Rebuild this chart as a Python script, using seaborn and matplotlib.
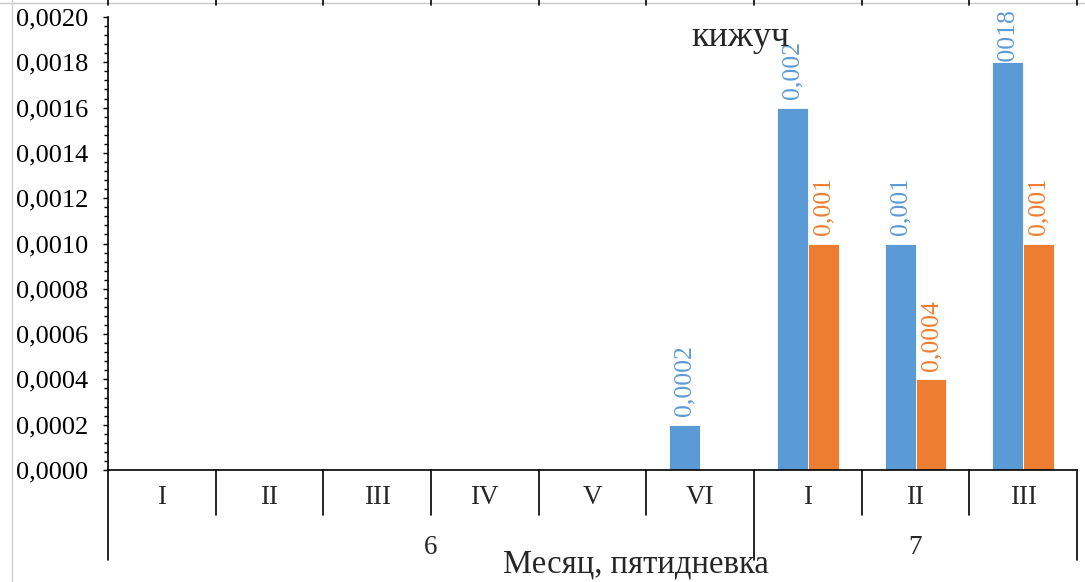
import numpy as np
import pandas as pd
import matplotlib
matplotlib.use('Agg')
import matplotlib.pyplot as plt
import matplotlib.transforms as mtransforms
from matplotlib.ticker import FuncFormatter, AutoMinorLocator, MultipleLocator
import seaborn as sns

# data
months = ['6', '6', '6', '6', '6', '6', '7', '7', '7']
pentads = ['I', 'II', 'III', 'IV', 'V', 'VI', 'I', 'II', 'III']
series_a = [0, 0, 0, 0, 0, 0.0002, 0.0016, 0.0010, 0.0018]
series_b = [0, 0, 0, 0, 0, 0, 0.0010, 0.0004, 0.0010]
labels_a = ['', '', '', '', '', '0,0002', '0,002', '0,001', '0,0018']
labels_b = ['', '', '', '', '', '', '0,001', '0,0004', '0,001']
month_names = ['6', '7']

BLUE = '#5B9BD5'
ORANGE = '#ED7D31'
FONT = 'Liberation Serif'
TICK_FONT_SIZE = 19
LABEL_FONT_SIZE = 18.5
CAT_FONT_SIZE = 19.5
W, H = 1085, 582
TOP_MARGIN_PX = 9

sns.set_style('white')
plt.rcParams['font.family'] = [FONT, 'DejaVu Serif']

keys = [m + '-' + p for m, p in zip(months, pentads)]
df = pd.DataFrame({
    'period': keys * 2,
    'series': ['a'] * len(keys) + ['b'] * len(keys),
    'value': series_a + series_b,
})

fig = plt.figure(figsize=(W / 100, H / 100), dpi=100)
ax = fig.add_axes([108 / W, 1 - 470 / H, (1077 - 108) / W, (470 - 17) / H])

sns.barplot(data=df, x='period', y='value', hue='series', order=keys,
            palette=[BLUE, ORANGE], width=0.575, gap=0, saturation=1,
            legend=False, ax=ax, edgecolor='white', linewidth=0.6)

ax.set_xlim(-0.5, len(keys) - 0.5)
ax.set_ylim(0, 0.0020)
ax.yaxis.set_major_locator(MultipleLocator(0.0002))
ax.yaxis.set_minor_locator(AutoMinorLocator(5))
ax.yaxis.set_major_formatter(FuncFormatter(lambda v, p: '{:.4f}'.format(v).replace('.', ',')))
ax.tick_params(axis='y', which='major', direction='out', length=3.6, width=1, color='k',
               labelsize=TICK_FONT_SIZE, pad=10.8, left=True, labelcolor='k')
ax.tick_params(axis='y', which='minor', direction='out', length=3, width=1, color='k', left=True)
ax.set_xticks([])
ax.set_xlabel('')
ax.set_ylabel('')

for side in ['top', 'right']:
    ax.spines[side].set_visible(False)
for side in ['left', 'bottom']:
    ax.spines[side].set_color('k')
    ax.spines[side].set_linewidth(1.2)

# data labels (pushed down under the bar when they would run off the top, like Excel)
PAD = 6
bar_texts = []
for cont, labs, col in zip(ax.containers, [labels_a, labels_b], [BLUE, ORANGE]):
    bar_texts += ax.bar_label(cont, labels=labs, padding=PAD, rotation=90, color=col,
                              fontsize=LABEL_FONT_SIZE)

fig.canvas.draw()
renderer = fig.canvas.get_renderer()
for t in bar_texts:
    if not t.get_text():
        continue
    ext = t.get_window_extent(renderer)
    over = ext.y1 - (H - TOP_MARGIN_PX)
    if over > 0:
        t.xyann = (0, PAD - over * 72 / fig.dpi)
        t.set_zorder(0.5)

# multi-level category axis
ax_h = 470 - 17
trans = mtransforms.blended_transform_factory(ax.transData, ax.transAxes)
for i in range(len(keys) + 1):
    x = i - 0.5
    if i == 0 or i == len(keys) or months[i] != months[i - 1]:
        depth = 90
    else:
        depth = 45
    ax.plot([x, x], [0, -depth / ax_h], color='k', lw=1.2, transform=trans, clip_on=False)

for i, p in enumerate(pentads):
    ax.text(i, -27 / ax_h, p, transform=trans, ha='center', va='center',
            fontsize=CAT_FONT_SIZE)

for m in month_names:
    idx = [i for i, mm in enumerate(months) if mm == m]
    ax.text((idx[0] + idx[-1]) / 2, -78 / ax_h, m, transform=trans, ha='center',
            va='center', fontsize=CAT_FONT_SIZE)

fig.text(636 / W, 1 - 564 / H, 'Месяц, пятидневка', ha='center', va='center', fontsize=23.5)
fig.text(740 / W, 1 - 38 / H, 'кижуч', ha='center', va='center', fontsize=26)

# remnants of the neighbouring chart at the image edges
ftrans = mtransforms.blended_transform_factory(ax.transData, fig.transFigure)
ax.plot([-1.5, len(keys) + 1], [1 - 3 / H, 1 - 3 / H], color='#c8c8c8', lw=1,
        transform=ftrans, clip_on=False)
for i in range(len(keys) + 1):
    ax.plot([i - 0.5, i - 0.5], [1, 1 - 5 / H], color='k', lw=1.2,
            transform=ftrans, clip_on=False)
fig.add_artist(plt.Line2D([12 / W, 12 / W], [0, 1], color='#d0d0d0', lw=1))

plt.savefig('out.png', dpi=100)
plt.close()
